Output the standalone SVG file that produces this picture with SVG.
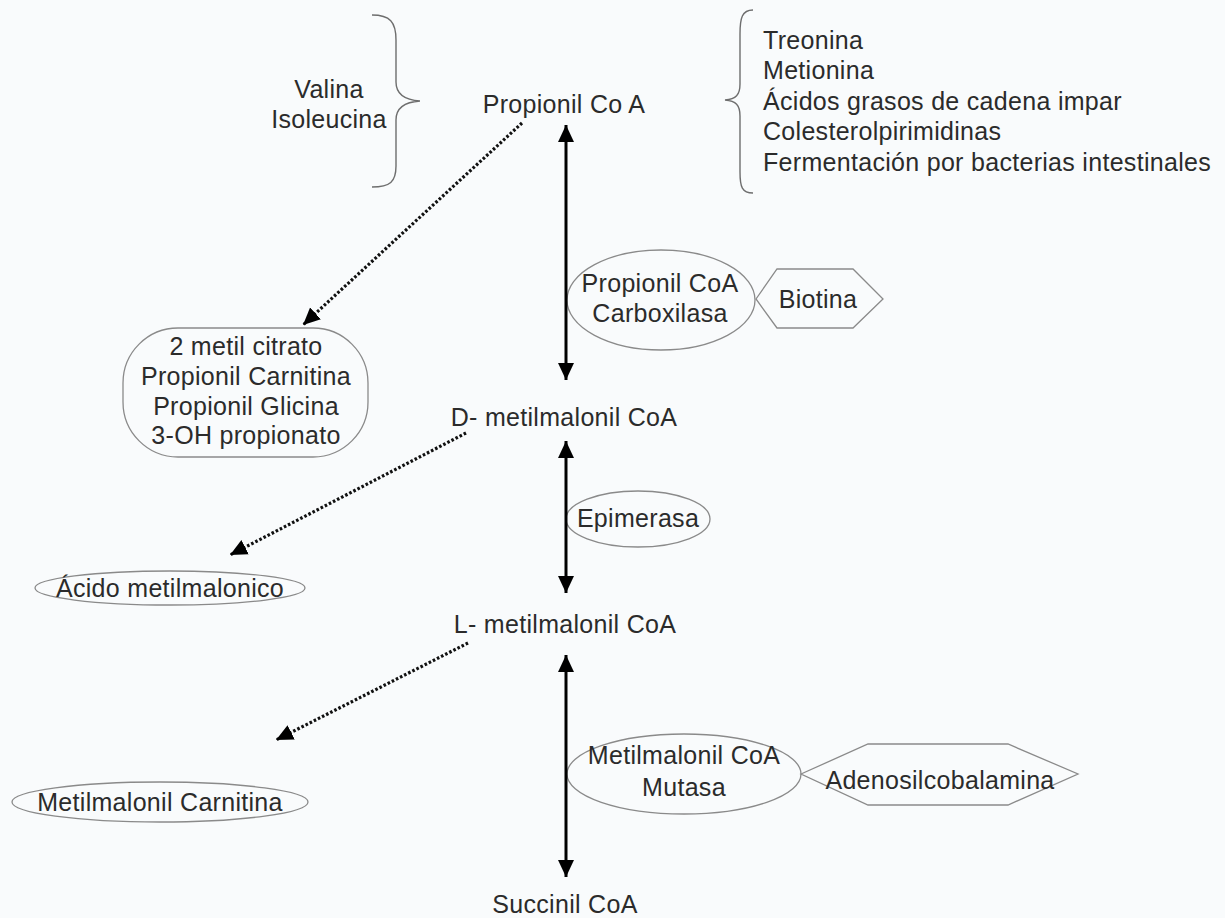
<svg xmlns="http://www.w3.org/2000/svg" width="1225" height="918" viewBox="0 0 1225 918">
  <defs>
    <style>
      text { font-family: "Liberation Sans", Arial, sans-serif; font-size: 25px; fill: #2b2b2b; letter-spacing: 0.3px; }
      .mid { text-anchor: middle; }
      .shape { fill: none; stroke: #8a8a8a; stroke-width: 1.3; }
      .brace { fill: none; stroke: #6e6e6e; stroke-width: 1.4; }
      .solid { stroke: #000; stroke-width: 3; fill: none; }
      .dotted { stroke: #111; stroke-width: 3.2; fill: none; stroke-dasharray: 2.6 2; }
    </style>
    <marker id="head" markerUnits="userSpaceOnUse" markerWidth="18" markerHeight="18" viewBox="0 0 18 18" refX="17" refY="9" orient="auto-start-reverse">
      <path d="M0,1 L17,9 L0,17 Z" fill="#000"/>
    </marker>
  </defs>

  <rect width="1225" height="918" fill="#f9fbfc"/>

  <!-- sources feeding propionyl-CoA -->
  <g id="source-aminoacids">
    <path class="brace" d="M372,15 C390,15 396,22 396,40 L396,82 C396,95 405,100 420,101 C405,102 396,107 396,120 L396,166 C396,182 390,187 372,187"/>
    <text class="mid" x="329" y="98">Valina</text>
    <text class="mid" x="329" y="128">Isoleucina</text>
  </g>

  <g id="source-others">
    <path class="brace" d="M753,10 C742,10 740,18 740,34 L740,84 C740,95 736,99 725,100 C736,101 740,105 740,116 L740,172 C740,187 742,193 753,193"/>
    <text x="763" y="49">Treonina</text>
    <text x="763" y="79">Metionina</text>
    <text x="763" y="110">Ácidos grasos de cadena impar</text>
    <text x="763" y="140">Colesterolpirimidinas</text>
    <text x="763" y="171">Fermentación por bacterias intestinales</text>
  </g>

  <!-- main pathway metabolites -->
  <g id="propionil-coa">
    <text class="mid" x="564" y="113">Propionil Co A</text>
  </g>
  <g id="d-metilmalonil-coa">
    <text class="mid" x="564" y="426">D- metilmalonil CoA</text>
  </g>
  <g id="l-metilmalonil-coa">
    <text class="mid" x="565" y="633">L- metilmalonil CoA</text>
  </g>
  <g id="succinil-coa">
    <text class="mid" x="565" y="913">Succinil CoA</text>
  </g>

  <!-- enzymes and cofactors -->
  <g id="carboxilasa">
    <ellipse class="shape" cx="661" cy="300" rx="94" ry="50"/>
    <text class="mid" x="660" y="292">Propionil CoA</text>
    <text class="mid" x="660" y="322">Carboxilasa</text>
  </g>
  <g id="biotina">
    <polygon class="shape" points="756,299 777,269 853,269 883,299 853,328 777,328"/>
    <text class="mid" x="818" y="308">Biotina</text>
  </g>
  <g id="epimerasa">
    <ellipse class="shape" cx="638" cy="519" rx="72" ry="28"/>
    <text class="mid" x="638" y="527">Epimerasa</text>
  </g>
  <g id="mutasa">
    <ellipse class="shape" cx="684" cy="774" rx="117" ry="40"/>
    <text class="mid" x="684" y="764">Metilmalonil CoA</text>
    <text class="mid" x="684" y="796">Mutasa</text>
  </g>
  <g id="adenosilcobalamina">
    <polygon class="shape" points="801,774 868,744 1008,744 1078,774 1008,805 868,805"/>
    <text class="mid" x="940" y="789">Adenosilcobalamina</text>
  </g>

  <!-- accumulated by-products -->
  <g id="derivados-propionil">
    <rect class="shape" x="123" y="328" width="245" height="129" rx="55" ry="55"/>
    <text class="mid" x="246" y="355">2 metil citrato</text>
    <text class="mid" x="246" y="385">Propionil Carnitina</text>
    <text class="mid" x="246" y="415">Propionil Glicina</text>
    <text class="mid" x="246" y="444">3-OH propionato</text>
  </g>
  <g id="acido-metilmalonico">
    <ellipse class="shape" cx="170" cy="588" rx="135" ry="17"/>
    <text class="mid" x="170" y="597">Ácido metilmalonico</text>
  </g>
  <g id="metilmalonil-carnitina">
    <ellipse class="shape" cx="160" cy="802" rx="148" ry="20"/>
    <text class="mid" x="160" y="811">Metilmalonil Carnitina</text>
  </g>

  <!-- connectors -->
  <g id="connectors">
    <line class="solid" x1="566" y1="125" x2="566" y2="380" marker-start="url(#head)" marker-end="url(#head)"/>
    <line class="solid" x1="566" y1="441" x2="566" y2="593" marker-start="url(#head)" marker-end="url(#head)"/>
    <line class="solid" x1="566" y1="655" x2="566" y2="877" marker-start="url(#head)" marker-end="url(#head)"/>
    <line class="dotted" x1="522" y1="123" x2="303" y2="325" marker-end="url(#head)"/>
    <line class="dotted" x1="466" y1="433" x2="230" y2="555" marker-end="url(#head)"/>
    <line class="dotted" x1="468" y1="643" x2="276" y2="740" marker-end="url(#head)"/>
  </g>
</svg>
